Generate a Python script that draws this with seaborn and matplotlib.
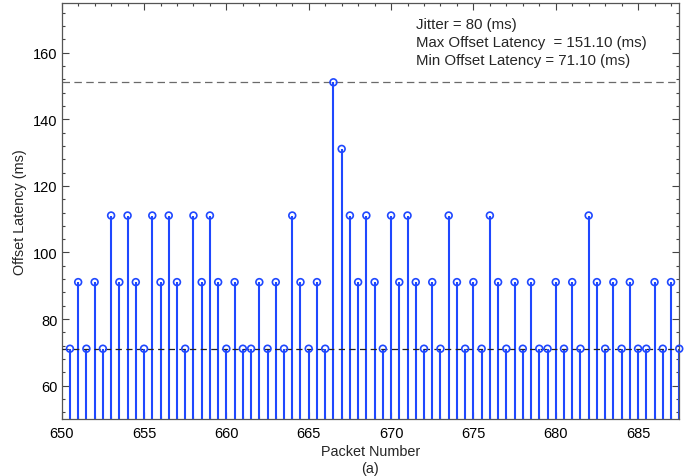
import matplotlib
matplotlib.use("Agg")
import matplotlib.pyplot as plt
import seaborn as sns
import pandas as pd
from matplotlib.ticker import MultipleLocator

# ---- data ----
packet_number = [
    650.5, 651.0, 651.5, 652.0, 652.5, 653.0, 653.5, 654.0, 654.5, 655.0,
    655.5, 656.0, 656.5, 657.0, 657.5, 658.0, 658.5, 659.0, 659.5, 660.0,
    660.5, 661.0, 661.5, 662.0, 662.5, 663.0, 663.5, 664.0, 664.5, 665.0,
    665.5, 666.0, 666.5, 667.0, 667.5, 668.0, 668.5, 669.0, 669.5, 670.0,
    670.5, 671.0, 671.5, 672.0, 672.5, 673.0, 673.5, 674.0, 674.5, 675.0,
    675.5, 676.0, 676.5, 677.0, 677.5, 678.0, 678.5, 679.0, 679.5, 680.0,
    680.5, 681.0, 681.5, 682.0, 682.5, 683.0, 683.5, 684.0, 684.5, 685.0,
    685.5, 686.0, 686.5, 687.0, 687.5,
]
offset_latency = [
    71.1, 91.1, 71.1, 91.1, 71.1, 111.1, 91.1, 111.1, 91.1, 71.1,
    111.1, 91.1, 111.1, 91.1, 71.1, 111.1, 91.1, 111.1, 91.1, 71.1,
    91.1, 71.1, 71.1, 91.1, 71.1, 91.1, 71.1, 111.1, 91.1, 71.1,
    91.1, 71.1, 151.1, 131.1, 111.1, 91.1, 111.1, 91.1, 71.1, 111.1,
    91.1, 111.1, 91.1, 71.1, 91.1, 71.1, 111.1, 91.1, 71.1, 91.1,
    71.1, 111.1, 91.1, 71.1, 91.1, 71.1, 91.1, 71.1, 71.1, 91.1,
    71.1, 91.1, 71.1, 111.1, 91.1, 71.1, 91.1, 71.1, 91.1, 71.1,
    71.1, 91.1, 71.1, 91.1, 71.1,
]
max_latency = 151.10
min_latency = 71.10
jitter = 80
x_ticks = [650, 655, 660, 665, 670, 675, 680, 685]
y_ticks = [60, 80, 100, 120, 140, 160]

df = pd.DataFrame({"Packet Number": packet_number, "Offset Latency": offset_latency})

sns.set_theme(style="ticks")
plt.rcParams["font.family"] = ["Liberation Sans", "DejaVu Sans"]

blue = "#1f48ff"
fig = plt.figure(figsize=(6.91, 4.77), dpi=100)
ax = fig.add_axes([0.0893, 0.1195, 0.8937, 0.8727])

ax.set_xlim(650, 687.5)
ax.set_ylim(50, 175)

# reference lines
ax.axhline(max_latency, color="#6a6a6a", lw=0.9, ls=(0, (6, 3.5)), zorder=1)
ax.axhline(min_latency, color="#222222", lw=0.9, ls=(0, (5, 3.5)), zorder=3)

# stems
ax.vlines(df["Packet Number"], 0, df["Offset Latency"], color=blue, lw=1.5, zorder=2)
# markers
sns.scatterplot(data=df, x="Packet Number", y="Offset Latency", ax=ax,
                marker="o", s=24, facecolor="none", edgecolor=blue,
                linewidth=1.2, zorder=4, clip_on=False, legend=False)

ax.set_xticks(x_ticks)
ax.set_yticks(y_ticks)
ax.xaxis.set_minor_locator(MultipleLocator(1))
ax.yaxis.set_minor_locator(MultipleLocator(4))
ax.tick_params(which="both", direction="in", top=True, right=True,
               colors="#444444", labelcolor="black", labelsize=10.5)
ax.tick_params(axis="x", which="both", pad=5)
ax.tick_params(axis="y", which="both", pad=3)
ax.tick_params(which="major", length=5, width=0.8)
ax.tick_params(which="minor", length=2.5, width=0.8)
for sp in ax.spines.values():
    sp.set_color("#555555")
    sp.set_linewidth(0.9)

ax.set_xlabel("Packet Number\n(a)", fontsize=10.4, linespacing=1.25, labelpad=3)
ax.set_ylabel("Offset Latency (ms)", fontsize=10.4, labelpad=4)

tx = 671.5
ax.text(tx, 167.5, f"Jitter = {jitter} (ms)", fontsize=10.8, va="baseline")
ax.text(tx, 162.0, f"Max Offset Latency  = {max_latency:.2f} (ms)", fontsize=10.8, va="baseline")
ax.text(tx, 156.5, f"Min Offset Latency = {min_latency:.2f} (ms)", fontsize=10.8, va="baseline")

fig.savefig("out.png", dpi=100)
